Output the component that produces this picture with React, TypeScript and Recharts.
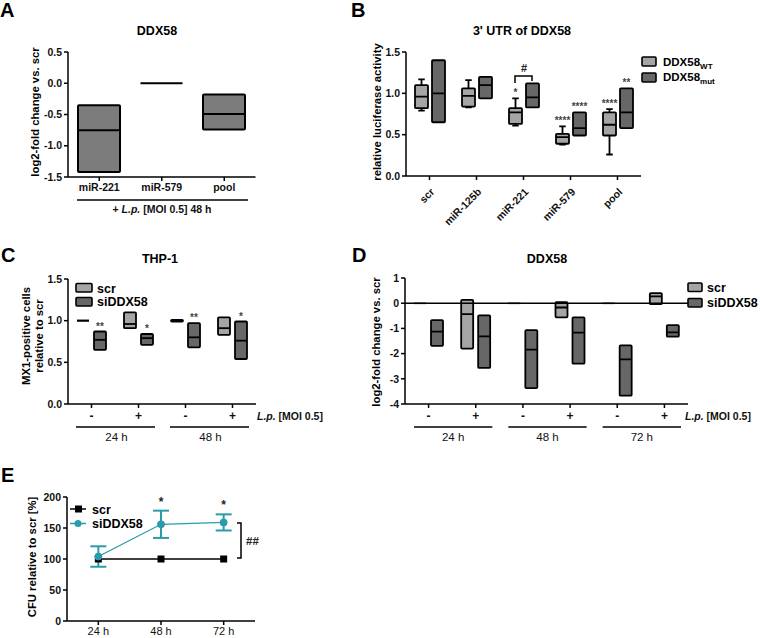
import React from 'react';
import { ComposedChart, Bar, XAxis, YAxis, ReferenceLine, Line, ErrorBar } from 'recharts';

const FONT = "'Liberation Sans', Arial, Helvetica, sans-serif";
const LIGHT = '#a5a5a5';
const DARK = '#676767';
const MID = '#7c7c7c';
const TEAL = '#2a9bab';
const TXT = '#111';

// ---------- Panel A ----------
const aCategories = ['miR-221', 'miR-579', 'pool'];
const aMin = [-1.42, 0.0, -0.74];
const aMed = [-0.75, 0.0, -0.49];
const aMax = [-0.35, 0.0, -0.18];
const aTicks = [0.5, 0.0, -0.5, -1.0, -1.5];

// ---------- Panel B ----------
const bCategories = ['scr', 'miR-125b', 'miR-221', 'miR-579', 'pool'];
const bWtMin = [0.79, 0.83, 0.61, 0.38, 0.26];
const bWtQ1 = [0.82, 0.84, 0.63, 0.39, 0.49];
const bWtMed = [0.96, 0.97, 0.77, 0.47, 0.62];
const bWtQ3 = [1.1, 1.06, 0.82, 0.51, 0.77];
const bWtMax = [1.17, 1.16, 0.94, 0.6, 0.81];
const bWtSig = ['', '', '*', '****', '****'];
const bMutMin = [0.65, 0.94, 0.83, 0.49, 0.58];
const bMutMed = [1.0, 1.1, 0.95, 0.58, 0.77];
const bMutMax = [1.4, 1.2, 1.12, 0.77, 1.06];
const bMutSig = ['', '', '', '****', '**'];
const bTicks = [0, 0.5, 1.0, 1.5];
const bSeries = ['WT', 'mut'];

// ---------- Panel C ----------
const cCategories = ['-', '+', '-', '+'];
const cGroups = ['24 h', '48 h'];
const cScrMin = [1.0, 0.91, 0.99, 0.83];
const cScrMed = [1.0, 0.96, 1.0, 0.91];
const cScrMax = [1.0, 1.1, 1.01, 1.04];
const cSiMin = [0.65, 0.71, 0.68, 0.54];
const cSiMed = [0.77, 0.79, 0.8, 0.76];
const cSiMax = [0.87, 0.84, 0.97, 0.99];
const cSiSig = ['**', '*', '**', '*'];
const cTicks = [0, 0.5, 1.0, 1.5];

// ---------- Panel D ----------
const dCategories = ['-', '+', '-', '+', '-', '+'];
const dGroups = ['24 h', '48 h', '72 h'];
const dScrMin = [0, -1.8, 0, -0.56, 0, -0.04];
const dScrMed = [0, -0.43, 0, -0.17, 0, 0.27];
const dScrMax = [0, 0.13, 0, 0.04, 0, 0.4];
const dSiMin = [-1.69, -2.57, -3.37, -2.4, -3.67, -1.33];
const dSiMed = [-1.13, -1.32, -1.84, -1.17, -2.23, -1.16];
const dSiMax = [-0.67, -0.48, -1.07, -0.56, -1.67, -0.87];
const dTicks = [1, 0, -1, -2, -3, -4];

// ---------- Panel E ----------
const eCategories = ['24 h', '48 h', '72 h'];
const eScr = [100, 100, 100];
const eSi = [104, 156, 159];
const eSiErr = [16.5, 22, 13];
const eSig = ['', '*', '*'];
const eTicks = [0, 50, 100, 150, 200];

const seriesNames = ['scr', 'siDDX58'];

type Box = { min: number; q1: number; med: number; q3: number; max: number; sig: string };

const mk = (min: number, q1: number, med: number, q3: number, max: number, sig = ''): Box => ({ min, q1, med, q3, max, sig });

const aRows = aCategories.map((c, i) => ({ id: c, a: mk(aMin[i], aMin[i], aMed[i], aMax[i], aMax[i]) }));
const bRows = bCategories.map((c, i) => ({
  id: c,
  a: mk(bWtMin[i], bWtQ1[i], bWtMed[i], bWtQ3[i], bWtMax[i], bWtSig[i]),
  b: mk(bMutMin[i], bMutMin[i], bMutMed[i], bMutMax[i], bMutMax[i], bMutSig[i]),
}));
const cRows = cCategories.map((c, i) => ({
  id: 'c' + i,
  a: mk(cScrMin[i], cScrMin[i], cScrMed[i], cScrMax[i], cScrMax[i]),
  b: mk(cSiMin[i], cSiMin[i], cSiMed[i], cSiMax[i], cSiMax[i], cSiSig[i]),
}));
const dRows = dCategories.map((c, i) => ({
  id: 'd' + i,
  a: mk(dScrMin[i], dScrMin[i], dScrMed[i], dScrMax[i], dScrMax[i]),
  b: mk(dSiMin[i], dSiMin[i], dSiMed[i], dSiMax[i], dSiMax[i]),
}));
const eRows = eCategories.map((c, i) => ({ id: c, scr: eScr[i], si: eSi[i], err: eSiErr[i], sig: eSig[i] }));

function boxShape(key: 'a' | 'b', fill: string, flatStroke: string, strokeW: number) {
  return (props: any) => {
    const { x, y, width, height, payload, index } = props;
    const b: Box = payload[key];
    if (!b) return <g key={index} />;
    const top = Math.min(y, y + height);
    const h = Math.abs(height);
    const cx = x + width / 2;
    const span = b.max - b.min;
    const px = (v: number) => (span === 0 ? top : top + ((b.max - v) / span) * h);
    const sigEl = b.sig ? (
      <text x={cx} y={px(b.max) - 2} textAnchor="middle" fontSize={10} fontWeight="bold" fill="#444">
        {b.sig}
      </text>
    ) : null;
    if (span === 0) {
      return (
        <g key={index}>
          <line x1={x} x2={x + width} y1={top} y2={top} stroke={flatStroke} strokeWidth={2.2} />
          {sigEl}
        </g>
      );
    }
    const cap = width * 0.5;
    return (
      <g key={index}>
        {b.max > b.q3 && (
          <g>
            <line x1={cx} x2={cx} y1={px(b.max)} y2={px(b.q3)} stroke="#000" strokeWidth={strokeW} />
            <line x1={cx - cap / 2} x2={cx + cap / 2} y1={px(b.max)} y2={px(b.max)} stroke="#000" strokeWidth={strokeW} />
          </g>
        )}
        {b.min < b.q1 && (
          <g>
            <line x1={cx} x2={cx} y1={px(b.q1)} y2={px(b.min)} stroke="#000" strokeWidth={strokeW} />
            <line x1={cx - cap / 2} x2={cx + cap / 2} y1={px(b.min)} y2={px(b.min)} stroke="#000" strokeWidth={strokeW} />
          </g>
        )}
        <rect x={x} y={px(b.q3)} width={width} height={Math.max(px(b.q1) - px(b.q3), 0.5)} fill={fill} stroke="#000" strokeWidth={strokeW} rx={1} />
        <line x1={x} x2={x + width} y1={px(b.med)} y2={px(b.med)} stroke="#000" strokeWidth={strokeW} />
        {sigEl}
      </g>
    );
  };
}

const W = 760;
const H = 638;
const axisStyle = { stroke: '#000', strokeWidth: 1.5 };
const yTick = { fontSize: 10.5, fontWeight: 'bold', fill: TXT } as any;
const xTickBold = { fontSize: 10.5, fontWeight: 'bold', fill: TXT } as any;

const layer: React.CSSProperties = { position: 'absolute', left: 0, top: 0 };

function rangeKey(k: 'a' | 'b') {
  return (r: any) => [r[k].min, r[k].max];
}

function BTick(props: any) {
  const { x, y, payload } = props;
  return (
    <g transform={`translate(${x},${y + 5})`}>
      <text x={0} y={0} dy="0.75em" textAnchor="end" transform="rotate(-45)" fontSize={10.5} fontWeight="bold" fill={TXT}>
        {payload.value}
      </text>
    </g>
  );
}

export default function App() {
  // plot geometry (page coordinates)
  const C = { left: 68, right: 256 };
  const D = { left: 405, right: 688 };
  const E = { left: 67, right: 255 };
  const cBand = (C.right - C.left) / cCategories.length;
  const dBand = (D.right - D.left) / dCategories.length;
  const eHalfBand = (E.right - E.left) / eCategories.length / 2;

  return (
    <div style={{ position: 'absolute', left: 0, top: 0, width: W, height: H, background: '#fff', fontFamily: FONT }}>
      {/* Panel A */}
      <div style={layer}>
        <ComposedChart width={W} height={H} data={aRows} margin={{ top: 52, left: 28, right: W - 255.5, bottom: H - 177 - 30 }}>
          <XAxis dataKey="id" height={30} axisLine={axisStyle} tickLine={axisStyle} tickSize={4} tickMargin={3} tick={xTickBold} interval={0} />
          <YAxis width={40} domain={[-1.5, 0.5]} ticks={aTicks} axisLine={axisStyle} tickLine={axisStyle} tickSize={4} tickMargin={2} tick={yTick} tickFormatter={(v: number) => v.toFixed(1)} allowDataOverflow />
          <Bar dataKey={rangeKey('a')} barSize={42} isAnimationActive={false} shape={boxShape('a', MID, '#000', 2)} />
        </ComposedChart>
      </div>

      {/* Panel B */}
      <div style={layer}>
        <ComposedChart width={W} height={H} data={bRows} barGap={4} margin={{ top: 52, left: 366, right: W - 641, bottom: H - 176 - 40 }}>
          <XAxis dataKey="id" height={40} axisLine={axisStyle} tickLine={axisStyle} tickSize={4} tick={<BTick />} interval={0} />
          <YAxis width={40} domain={[0, 1.5]} ticks={bTicks} axisLine={axisStyle} tickLine={axisStyle} tickSize={4} tickMargin={2} tick={yTick} tickFormatter={(v: number) => v.toFixed(1)} allowDataOverflow />
          <Bar dataKey={rangeKey('a')} barSize={13} isAnimationActive={false} shape={boxShape('a', LIGHT, '#000', 1.8)} />
          <Bar dataKey={rangeKey('b')} barSize={13} isAnimationActive={false} shape={boxShape('b', DARK, '#000', 1.8)} />
        </ComposedChart>
      </div>

      {/* Panel C */}
      <div style={layer}>
        <ComposedChart width={W} height={H} data={cRows} barGap={5} margin={{ top: 279, left: C.left - 40, right: W - C.right, bottom: H - 404 - 30 }}>
          <XAxis dataKey="id" height={30} axisLine={axisStyle} tickLine={axisStyle} tickSize={4} tickMargin={3} tick={{ ...xTickBold, fontSize: 12 }} interval={0} tickFormatter={(_v: any, i: number) => cCategories[i]} />
          <YAxis width={40} domain={[0, 1.5]} ticks={cTicks} axisLine={axisStyle} tickLine={axisStyle} tickSize={4} tickMargin={2} tick={yTick} tickFormatter={(v: number) => v.toFixed(1)} allowDataOverflow />
          <Bar dataKey={rangeKey('a')} barSize={12} isAnimationActive={false} shape={boxShape('a', LIGHT, '#000', 1.8)} />
          <Bar dataKey={rangeKey('b')} barSize={12} isAnimationActive={false} shape={boxShape('b', DARK, '#000', 1.8)} />
        </ComposedChart>
      </div>

      {/* Panel D */}
      <div style={layer}>
        <ComposedChart width={W} height={H} data={dRows} barGap={5} margin={{ top: 278, left: D.left - 40, right: W - D.right, bottom: H - 404 - 30 }}>
          <XAxis dataKey="id" height={30} axisLine={axisStyle} tickLine={axisStyle} tickSize={4} tickMargin={3} tick={{ ...xTickBold, fontSize: 12 }} interval={0} tickFormatter={(_v: any, i: number) => dCategories[i]} />
          <YAxis width={40} domain={[-4, 1]} ticks={dTicks} axisLine={axisStyle} tickLine={axisStyle} tickSize={4} tickMargin={2} tick={yTick} allowDataOverflow />
          <ReferenceLine y={0} stroke="#000" strokeWidth={1.5} />
          <Bar dataKey={rangeKey('a')} barSize={12} isAnimationActive={false} shape={boxShape('a', LIGHT, '#9a9a9a', 1.8)} />
          <Bar dataKey={rangeKey('b')} barSize={12} isAnimationActive={false} shape={boxShape('b', DARK, '#000', 1.8)} />
        </ComposedChart>
      </div>

      {/* Panel E */}
      <div style={layer}>
        <ComposedChart width={W} height={H} data={eRows} margin={{ top: 497, left: E.left - 40, right: W - E.right, bottom: 0 }}>
          <XAxis dataKey="id" height={17} padding={{ left: eHalfBand, right: eHalfBand }} axisLine={axisStyle} tickLine={axisStyle} tickSize={4} tickMargin={2} tick={{ fontSize: 11, fill: TXT }} interval={0} />
          <YAxis width={40} domain={[0, 200]} ticks={eTicks} axisLine={axisStyle} tickLine={axisStyle} tickSize={4} tickMargin={2} tick={yTick} allowDataOverflow />
          <Line
            dataKey="scr"
            stroke="#000"
            strokeWidth={1.3}
            isAnimationActive={false}
            dot={(p: any) => <rect key={p.index} x={p.cx - 3.5} y={p.cy - 3.5} width={7} height={7} fill="#000" />}
          />
          <Line
            dataKey="si"
            stroke={TEAL}
            strokeWidth={1.3}
            isAnimationActive={false}
            dot={(p: any) => <circle key={p.index} cx={p.cx} cy={p.cy} r={3.5} fill={TEAL} stroke={TEAL} />}
          >
            <ErrorBar dataKey="err" width={8} stroke={TEAL} strokeWidth={2} direction="y" />
          </Line>
          <Line
            dataKey={(r: any) => (r.sig ? r.si + r.err : null)}
            stroke="none"
            isAnimationActive={false}
            dot={(p: any) =>
              p.payload && p.payload.sig && p.cy != null ? (
                <text key={p.index} x={p.cx} y={p.cy - 5} textAnchor="middle" fontSize={12} fontWeight="bold" fill="#222">
                  {p.payload.sig}
                </text>
              ) : (
                <g key={p.index} />
              )
            }
          />
        </ComposedChart>
      </div>

      {/* Overlay annotations */}
      <svg width={W} height={H} style={{ position: 'absolute', left: 0, top: 0, pointerEvents: 'none' }} fontFamily={FONT}>
        {/* panel letters */}
        <g fontSize={20} fontWeight="bold" fill="#000">
          <text x={0} y={17}>A</text>
          <text x={351} y={17}>B</text>
          <text x={1} y={262}>C</text>
          <text x={352} y={262}>D</text>
          <text x={1} y={482}>E</text>
        </g>
        {/* titles */}
        <g fontSize={12.5} fontWeight="bold" fill="#000" textAnchor="middle">
          <text x={157} y={35}>DDX58</text>
          <text x={522} y={35}>3' UTR of DDX58</text>
          <text x={160} y={263}>THP-1</text>
          <text x={547} y={263}>DDX58</text>
        </g>
        {/* y axis labels */}
        <g fontSize={11.3} fontWeight="bold" fill="#000" textAnchor="middle">
          <text transform="translate(39,112) rotate(-90)">log2-fold change vs. scr</text>
          <text transform="translate(381,112) rotate(-90)">relative luciferase activity</text>
          <text transform="translate(30,336) rotate(-90)">MX1-positive cells</text>
          <text transform="translate(43,336) rotate(-90)">relative to scr</text>
          <text transform="translate(380,342) rotate(-90)">log2-fold change vs. scr</text>
          <text transform="translate(36,557) rotate(-90)">CFU relative to scr [%]</text>
        </g>

        {/* Panel A condition line */}
        <line x1={77} x2={248} y1={200} y2={200} stroke="#000" strokeWidth={1.5} />
        <text x={162} y={213} textAnchor="middle" fontSize={10.5} fontWeight="bold" fill={TXT}>
          + <tspan fontStyle="italic">L.p.</tspan> [MOI 0.5] 48 h
        </text>

        {/* Panel B bracket and legend */}
        <path d="M515,83 L515,76 L532,76 L532,81" fill="none" stroke="#000" strokeWidth={1.5} />
        <text x={524} y={72} textAnchor="middle" fontSize={11} fontWeight="bold" fill="#222">#</text>
        {bSeries.map((s, i) => (
          <g key={s}>
            <rect x={642} y={57 + i * 16} width={14} height={9} fill={i === 0 ? LIGHT : DARK} stroke="#000" strokeWidth={1.6} rx={1} />
            <text x={663} y={66 + i * 15} fontSize={11.5} fontWeight="bold" fill="#000">
              DDX58<tspan fontSize={8} dy={3}>{s}</tspan>
            </text>
          </g>
        ))}

        {/* Panel C legend */}
        {seriesNames.map((s, i) => (
          <g key={'c' + s}>
            <rect x={76} y={283.5 + i * 14} width={16} height={8.5} fill={i === 0 ? LIGHT : DARK} stroke="#000" strokeWidth={1.6} rx={1} />
            <text x={97} y={292.5 + i * 13.5} fontSize={12.5} fontWeight="bold" fill="#000">{s}</text>
          </g>
        ))}
        {/* Panel C L.p. label and groups */}
        <text x={257} y={420} fontSize={10.5} fontWeight="bold" fill={TXT}>
          <tspan fontStyle="italic">L.p.</tspan> [MOI 0.5]
        </text>
        {cGroups.map((g, i) => {
          const x1 = C.left + 2 * i * cBand + 8;
          const x2 = C.left + (2 * i + 2) * cBand - 7;
          return (
            <g key={'cg' + g}>
              <line x1={x1} x2={x2} y1={427} y2={427} stroke="#000" strokeWidth={1.6} />
              <text x={(x1 + x2) / 2 + 1} y={441} textAnchor="middle" fontSize={11.5} fill={TXT}>{g}</text>
            </g>
          );
        })}

        {/* Panel D legend */}
        {seriesNames.map((s, i) => (
          <g key={'d' + s}>
            <rect x={688} y={283 + i * 15.5} width={14} height={8.5} fill={i === 0 ? LIGHT : DARK} stroke="#000" strokeWidth={1.6} rx={1} />
            <text x={707} y={292 + i * 15} fontSize={12.5} fontWeight="bold" fill="#000">{s}</text>
          </g>
        ))}
        <text x={685} y={420} fontSize={10.5} fontWeight="bold" fill={TXT}>
          <tspan fontStyle="italic">L.p.</tspan> [MOI 0.5]
        </text>
        {dGroups.map((g, i) => {
          const x1 = D.left + 2 * i * dBand + 9;
          const x2 = D.left + (2 * i + 2) * dBand - 7;
          return (
            <g key={'dg' + g}>
              <line x1={x1} x2={x2} y1={427} y2={427} stroke="#000" strokeWidth={1.6} />
              <text x={(x1 + x2) / 2} y={441} textAnchor="middle" fontSize={11.5} fill={TXT}>{g}</text>
            </g>
          );
        })}

        {/* Panel E legend */}
        {seriesNames.map((s, i) => (
          <g key={'e' + s}>
            <line x1={70} x2={86} y1={509 + i * 14.5} y2={509 + i * 14.5} stroke={i === 0 ? '#000' : TEAL} strokeWidth={1.5} />
            {i === 0 ? (
              <rect x={75} y={505.5} width={7} height={7} fill="#000" />
            ) : (
              <circle cx={78} cy={523.5} r={3.5} fill={TEAL} />
            )}
            <text x={92} y={513.5 + i * 14} fontSize={12.5} fontWeight="bold" fill="#000">{s}</text>
          </g>
        ))}
        {/* Panel E bracket */}
        <path d="M237,523 L241,523 L241,558 L237,558" fill="none" stroke="#000" strokeWidth={1.5} />
        <text x={246} y={545} fontSize={11.5} fontWeight="bold" fill="#222">##</text>
      </svg>
    </div>
  );
}
